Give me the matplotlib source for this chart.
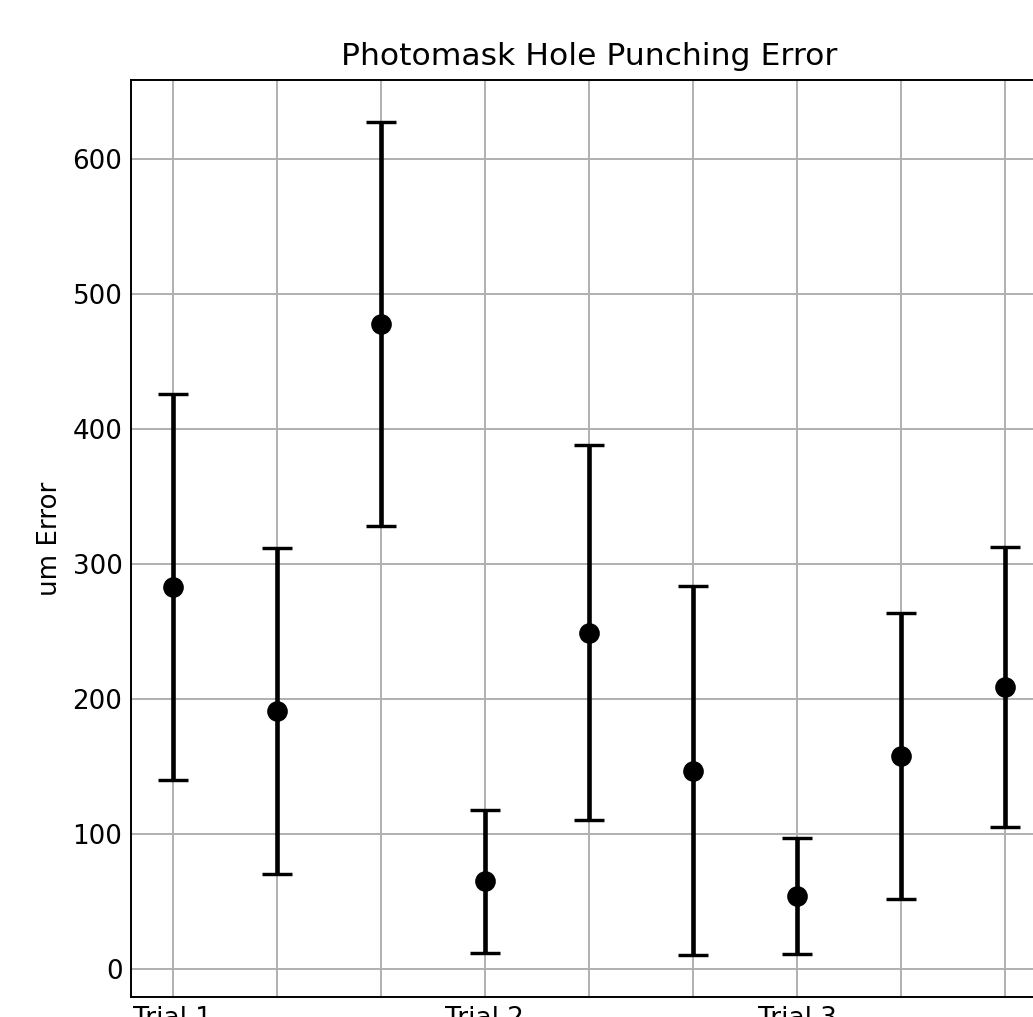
import matplotlib
matplotlib.use("Agg")
import matplotlib.pyplot as plt
import numpy as np

positions = list(range(9))
means = [283, 191, 478, 65, 249, 147, 54, 158, 209]
errors = [143, 121, 150, 53, 139, 137, 43, 106, 104]
tick_labels = ["Trial 1", "", "", "Trial 2", "", "", "Trial 3", "", ""]

dpi = 175
plt.rcParams["font.size"] = 10.75
fig = plt.figure(figsize=(1033 / dpi, 1017 / dpi), dpi=dpi)
ax = fig.add_axes([131 / 1033, 20 / 1017, (1047 - 131) / 1033, (997 - 80) / 1017])

ax.errorbar(positions, means, yerr=errors, fmt="o", color="black",
            ecolor="black", elinewidth=1.9, capsize=6, capthick=1.4,
            markersize=7.5, zorder=3)
ax.set_xticks(positions)
ax.set_xticklabels(tick_labels)
ax.set_yticks([0, 100, 200, 300, 400, 500, 600])
ax.tick_params(length=0)
ax.grid(True, color="#b0b0b0", linewidth=0.8)
ax.set_axisbelow(True)
for s in ax.spines.values():
    s.set_color("black")
    s.set_linewidth(0.8)
ax.set_ylabel("um Error")
ax.set_title("Photomask Hole Punching Error", fontsize=12.9)

fig.savefig("out.png", dpi=dpi)
